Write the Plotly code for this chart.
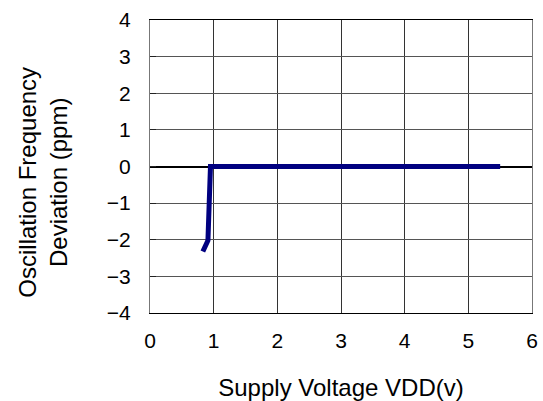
import plotly.graph_objects as go

# Supply voltage sweep (V) and measured frequency deviation (ppm)
vdd = [0.83, 0.91, 0.93, 0.95, 1.0, 1.5, 2.0, 2.5, 3.0, 3.5, 4.0, 4.5, 5.0, 5.5]
deviation = [-2.32, -2.02, -1.0, 0.0, 0.0, 0.0, 0.0, 0.0, 0.0, 0.0, 0.0, 0.0, 0.0, 0.0]

x_ticks = [0, 1, 2, 3, 4, 5, 6]
y_ticks = [-4, -3, -2, -1, 0, 1, 2, 3, 4]
y_tick_text = ["\u22124", "\u22123", "\u22122", "\u22121", "0", "1", "2", "3", "4"]

x_title = "Supply Voltage VDD(v)"
y_title = "Oscillation Frequency<br>Deviation (ppm)"

font_family = "Liberation Sans, Arial, sans-serif"

fig = go.Figure()
fig.add_trace(go.Scatter(
    x=vdd, y=deviation, mode="lines",
    line=dict(color="#000080", width=5),
    showlegend=False,
))

fig.update_layout(
    width=543, height=401,
    margin=dict(l=150, r=11, t=20, b=88, autoexpand=False),
    paper_bgcolor="white", plot_bgcolor="white",
    font=dict(family=font_family, size=21, color="black"),
)

fig.update_xaxes(
    range=[0, 6], tickvals=x_ticks, ticktext=[str(t) for t in x_ticks],
    showgrid=True, gridcolor="#333333", gridwidth=1,
    zeroline=False, showline=True, linecolor="black", linewidth=1, mirror=True,
    ticks="", ticklabelstandoff=9, automargin=False,
    title=dict(text=x_title, font=dict(size=24), standoff=28),
)
fig.update_yaxes(
    range=[-4, 4], tickvals=y_ticks, ticktext=y_tick_text,
    showgrid=True, gridcolor="#555555", gridwidth=1,
    zeroline=True, zerolinecolor="black", zerolinewidth=2,
    showline=True, linecolor="#777777", linewidth=1, mirror=True,
    ticks="inside", ticklen=6, tickcolor="#222222", ticklabelstandoff=14,
    automargin=False,
)

# Two-line y-axis title, placed left of the tick labels
fig.add_annotation(
    text=y_title, xref="paper", yref="paper",
    x=-0.281, y=0.447, xanchor="center", yanchor="middle",
    textangle=-90, showarrow=False, align="center",
    font=dict(size=24, family=font_family, color="black"),
)

fig.write_html("out.html")
